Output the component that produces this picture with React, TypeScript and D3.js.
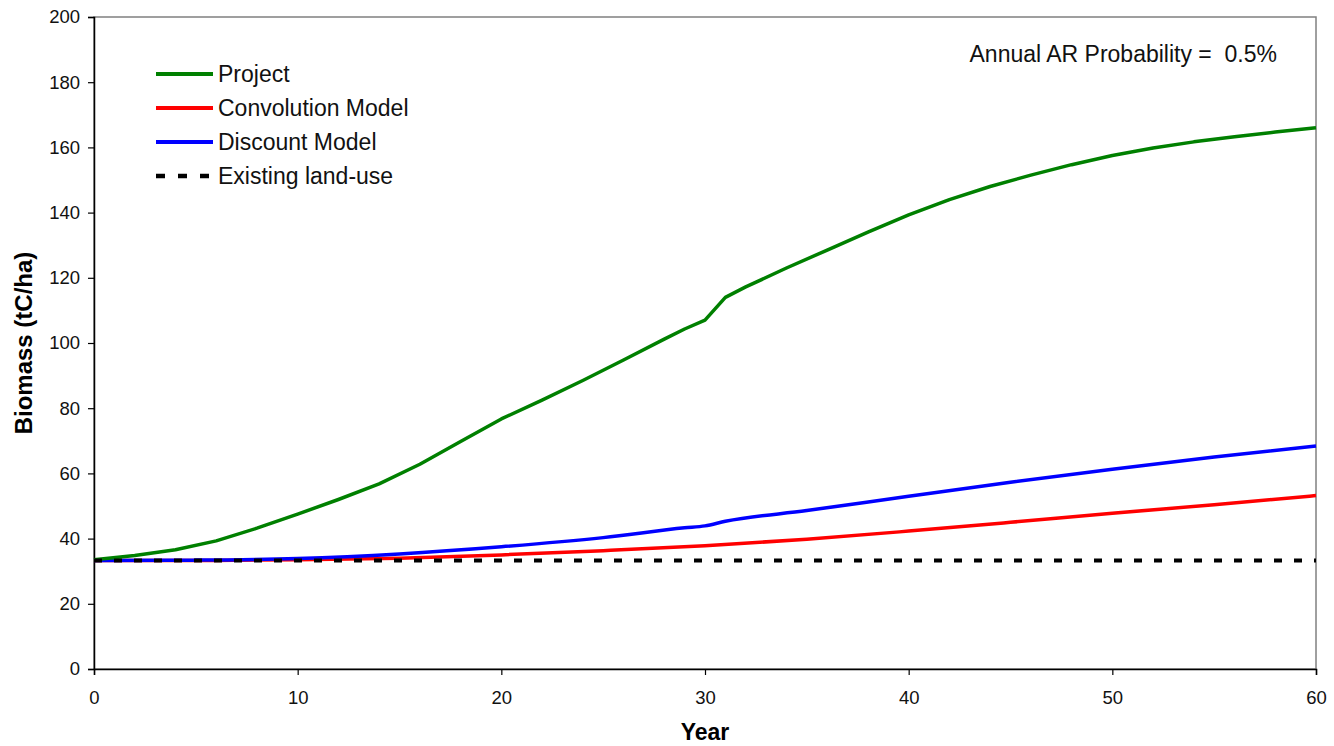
import React, { useEffect, useRef } from "react";
import * as d3 from "d3";

const projectYears = [0, 2, 4, 6, 8, 10, 12, 14, 16, 18, 20, 22, 24, 26, 28, 29, 30, 31, 32, 34, 36, 38, 40, 42, 44, 46, 48, 50, 52, 54, 56, 58, 60];
const projectValues = [33.5, 34.8, 36.6, 39.3, 43.2, 47.5, 52.0, 56.8, 62.8, 69.8, 76.7, 82.5, 88.5, 94.8, 101.2, 104.3, 107.0, 114.0, 117.2, 123.0, 128.5, 134.0, 139.3, 144.0, 148.0, 151.5, 154.7, 157.5, 159.8, 161.7, 163.3, 164.7, 166.0];

const discountYears = [0, 5, 10, 15, 20, 25, 29, 30, 31, 35, 40, 45, 50, 55, 60];
const discountValues = [33.3, 33.4, 33.9, 35.3, 37.5, 40.3, 43.3, 43.9, 45.3, 48.6, 53.0, 57.3, 61.3, 65.0, 68.4];

const convolutionYears = [0, 5, 10, 15, 20, 25, 30, 35, 40, 45, 50, 55, 60];
const convolutionValues = [33.3, 33.3, 33.5, 34.0, 35.0, 36.3, 37.8, 39.8, 42.3, 45.0, 47.8, 50.4, 53.2];

const existingYears = [0, 60];
const existingValues = [33.3, 33.3];

const xTicks = [0, 10, 20, 30, 40, 50, 60];
const yTicks = [0, 20, 40, 60, 80, 100, 120, 140, 160, 180, 200];

const legendNames = ["Project", "Convolution Model", "Discount Model", "Existing land-use"];
const legendColors = ["#008000", "#ff0000", "#0000ff", "#000000"];

const W = 1334;
const H = 746;
const margin = { left: 94, right: 18, top: 17, bottom: 77 };
const font = "'Liberation Sans', Arial, sans-serif";

export default function App() {
  const svgRef = useRef<SVGSVGElement>(null);

  useEffect(() => {
    const svg = d3.select(svgRef.current);
    svg.selectAll("*").remove();

    const x = d3.scaleLinear().domain([0, 60]).range([margin.left, W - margin.right]);
    const y = d3.scaleLinear().domain([0, 200]).range([H - margin.bottom, margin.top]);

    // plot border (top/right grey)
    svg.append("rect")
      .attr("x", x(0)).attr("y", y(200))
      .attr("width", x(60) - x(0)).attr("height", y(0) - y(200))
      .attr("fill", "none").attr("stroke", "#808080").attr("stroke-width", 1.5);

    const yAxis = d3.axisLeft(y).tickValues(yTicks).tickSize(6).tickPadding(8);
    const gy = svg.append("g").attr("transform", `translate(${x(0)},0)`).call(yAxis);
    const xAxis = d3.axisBottom(x).tickValues(xTicks).tickSize(6).tickPadding(16);
    const gx = svg.append("g").attr("transform", `translate(0,${y(0)})`).call(xAxis);

    [gx, gy].forEach((g) => {
      g.select(".domain").attr("stroke", "#000").attr("stroke-width", 1.5);
      g.selectAll(".tick line").attr("stroke", "#000").attr("stroke-width", 1.2);
      g.selectAll(".tick text")
        .attr("fill", "#111")
        .style("font-family", font)
        .style("font-size", "18.5px");
    });

    const series: { years: number[]; values: number[]; color: string; dash?: string; smooth: boolean }[] = [
      { years: convolutionYears, values: convolutionValues, color: legendColors[1], smooth: true },
      { years: discountYears, values: discountValues, color: legendColors[2], smooth: true },
      { years: projectYears, values: projectValues, color: legendColors[0], smooth: false },
      { years: existingYears, values: existingValues, color: legendColors[3], dash: "8,12", smooth: false },
    ];

    series.forEach((s) => {
      const pts = s.years.map((yr, i) => [yr, s.values[i]] as [number, number]);
      const line = d3.line<[number, number]>()
        .x((d) => x(d[0]))
        .y((d) => y(d[1]))
        .curve(s.smooth ? d3.curveMonotoneX : d3.curveLinear);
      svg.append("path")
        .datum(pts)
        .attr("d", line)
        .attr("fill", "none")
        .attr("stroke", s.color)
        .attr("stroke-width", s.dash ? 4 : 3.5)
        .attr("stroke-linejoin", "round")
        .attr("stroke-dasharray", s.dash ?? null);
    });

    // legend
    const lg = svg.append("g");
    legendNames.forEach((name, i) => {
      const ly = 74 + i * 34;
      lg.append("line")
        .attr("x1", 156).attr("x2", 213).attr("y1", ly).attr("y2", ly)
        .attr("stroke", legendColors[i])
        .attr("stroke-width", i === 3 ? 4.5 : 4)
        .attr("stroke-dasharray", i === 3 ? "9,13" : null);
      lg.append("text")
        .attr("x", 218).attr("y", ly + 8)
        .style("font-family", font).style("font-size", "23px")
        .attr("fill", "#111")
        .text(name);
    });

    svg.append("text")
      .attr("x", 1277).attr("y", 62)
      .attr("text-anchor", "end")
      .style("font-family", font).style("font-size", "23px")
      .attr("fill", "#111")
      .attr("xml:space", "preserve")
      .style("white-space", "pre")
      .text("Annual AR Probability =  0.5%");

    svg.append("text")
      .attr("x", (x(0) + x(60)) / 2).attr("y", 740)
      .attr("text-anchor", "middle")
      .style("font-family", font).style("font-size", "23px").style("font-weight", "bold")
      .text("Year");

    svg.append("text")
      .attr("transform", `translate(32,${(y(0) + y(200)) / 2}) rotate(-90)`)
      .attr("text-anchor", "middle")
      .style("font-family", font).style("font-size", "24px").style("font-weight", "bold")
      .text("Biomass (tC/ha)");
  }, []);

  return (
    <div style={{ position: "fixed", left: 0, top: 0, width: W, height: H, background: "#fff" }}>
      <svg ref={svgRef} width={W} height={H} />
    </div>
  );
}
